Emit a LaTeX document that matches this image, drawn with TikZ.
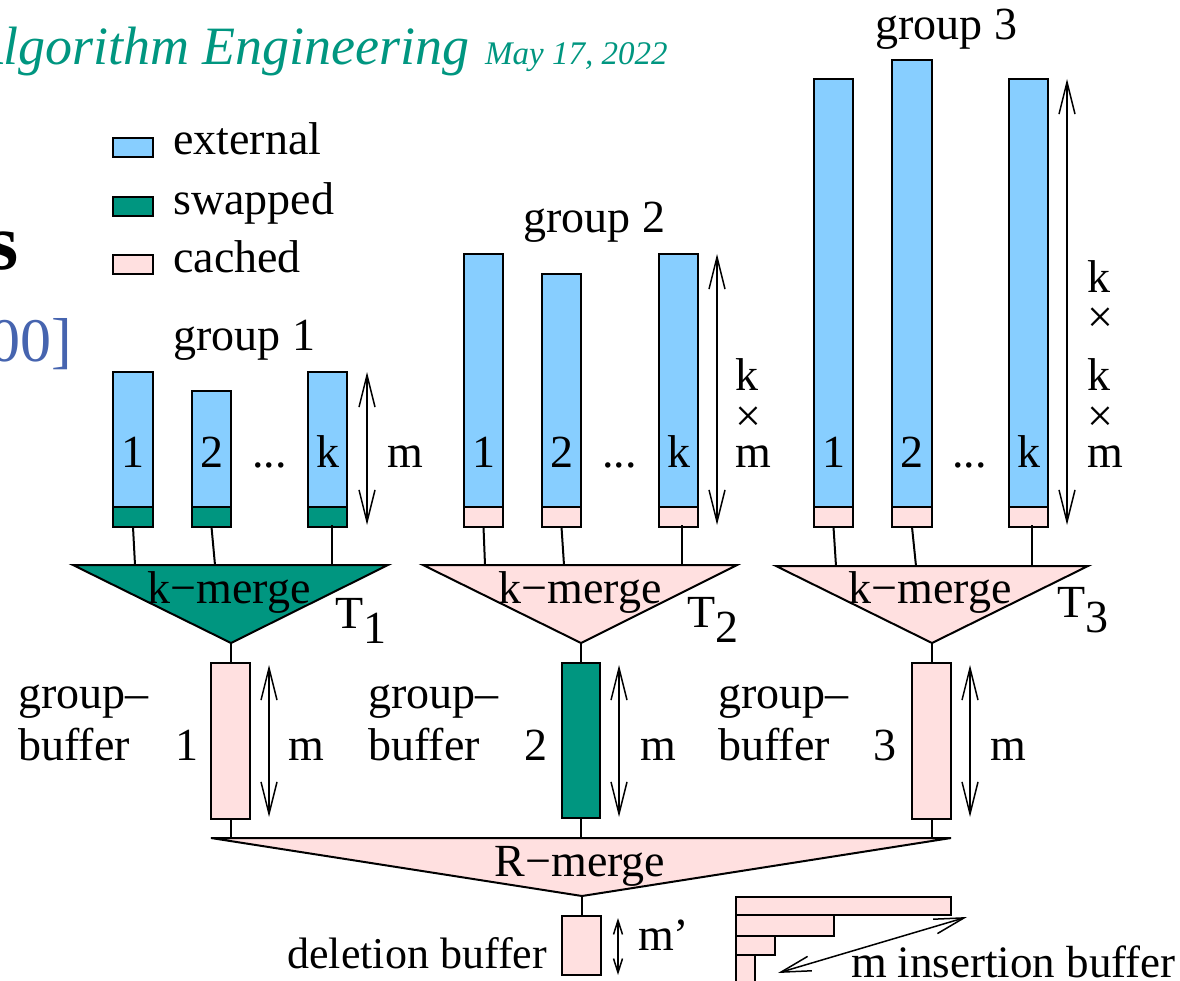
\documentclass[tikz,border=0pt]{standalone}
\usepackage{fontspec}
\setmainfont{Liberation Serif}
\usetikzlibrary{arrows.meta}
\definecolor{extblue}{RGB}{135,206,255}
\definecolor{swapteal}{RGB}{0,150,128}
\definecolor{cachepink}{RGB}{255,224,224}
\definecolor{citeblue}{RGB}{70,100,175}
\newcommand\blk[6]{\node[blkbase,fill=#2,minimum width={(#5)-(#3)},minimum height={(#6)-(#4)}] (#1) at ({((#3)+(#5))/2},{((#4)+(#6))/2}) {};}
\begin{document}
\begin{tikzpicture}[x=1pt,y=-1pt,
  blkbase/.style={draw,line width=2pt,inner sep=0pt,outer sep=0pt},
  txt/.style={inner sep=0pt,anchor=base west,font=\fontsize{46}{54}\selectfont},
  ctxt/.style={txt,anchor=base},
  etxt/.style={txt,anchor=base east},
  wire/.style={line width=2pt},
  tri/.style={draw,line width=2pt,line join=miter},
  dimarrow/.style={line width=1.5pt,{Straight Barb[length=32pt,width=16pt]}-{Straight Barb[length=32pt,width=16pt]}},
  sdimarrow/.style={line width=1.5pt,{Straight Barb[length=14pt,width=9pt]}-{Straight Barb[length=14pt,width=9pt]}}
]
\useasboundingbox (0,0) rectangle (1180,981);

% slide fragments
\node[inner sep=0pt,anchor=base east,font=\fontsize{54}{60}\selectfont\itshape,text=swapteal] (title) at (470,65) {Algorithm Engineering};
\node[inner sep=0pt,anchor=base west,font=\fontsize{33}{40}\selectfont\itshape,text=swapteal] (date) at (485,65) {May 17, 2022};
\node[inner sep=0pt,anchor=base east,font=\fontsize{80}{90}\selectfont\bfseries] (head) at (19,270) {s};
\node[inner sep=0pt,anchor=base east,font=\fontsize{62}{70}\selectfont,text=citeblue] (cite) at (72,362) {00]};

% legend
\blk{lgext}{extblue}{113}{138}{153}{157}
\blk{lgswp}{swapteal}{113}{197}{153}{216}
\blk{lgcch}{cachepink}{113}{255}{153}{274}
\node[txt] (lext) at (173,155) {external};
\node[txt] (lswp) at (173,215) {swapped};
\node[txt] (lcch) at (173,273) {cached};

% group labels
\node[txt] (g1) at (173,350) {group 1};
\node[txt] (g2) at (523,233) {group 2};
\node[txt] (g3) at (875,40) {group 3};

% group 1 bars
\blk{b11}{extblue}{113}{372}{153}{507}
\blk{s11}{swapteal}{113}{507}{153}{527}
\blk{b12}{extblue}{192}{391}{231}{507}
\blk{s12}{swapteal}{192}{507}{231}{527}
\blk{b1k}{extblue}{308}{372}{347}{507}
\blk{s1k}{swapteal}{308}{507}{347}{527}
% group 2 bars
\blk{b21}{extblue}{464}{254}{503}{507}
\blk{s21}{cachepink}{464}{507}{503}{527}
\blk{b22}{extblue}{542}{274}{581}{507}
\blk{s22}{cachepink}{542}{507}{581}{527}
\blk{b2k}{extblue}{659}{254}{698}{507}
\blk{s2k}{cachepink}{659}{507}{698}{527}
% group 3 bars
\blk{b31}{extblue}{814}{79}{853}{507}
\blk{s31}{cachepink}{814}{507}{853}{527}
\blk{b32}{extblue}{892}{60}{932}{507}
\blk{s32}{cachepink}{892}{507}{932}{527}
\blk{b3k}{extblue}{1009}{79}{1048}{507}
\blk{s3k}{cachepink}{1009}{507}{1048}{527}

% bar labels
\foreach \nm/\x in {1/133,2/211.5,k/327.5,1/483.5,2/561.5,k/678.5,1/833.5,2/912,k/1028.5}
  \node[ctxt] at (\x,467) {\nm};
\node[txt] (dots1) at (252,467) {...};
\node[txt] (dots2) at (602,467) {...};
\node[txt] (dots3) at (952,467) {...};

% triangles
\coordinate (T1l) at (73,565); \coordinate (T1r) at (388,565); \coordinate (T1b) at (231,643);
\coordinate (T2l) at (423,565); \coordinate (T2r) at (737,565); \coordinate (T2b) at (581,643);
\coordinate (T3l) at (776,566); \coordinate (T3r) at (1088,566); \coordinate (T3b) at (932,643);
\draw[tri,fill=swapteal] (T1l) -- (T1r) -- (T1b) -- cycle;
\draw[tri,fill=cachepink] (T2l) -- (T2r) -- (T2b) -- cycle;
\draw[tri,fill=cachepink] (T3l) -- (T3r) -- (T3b) -- cycle;
\node[ctxt] (km1) at (229,603) {k−merge};
\node[ctxt] (km2) at (580,603) {k−merge};
\node[ctxt] (km3) at (930,603) {k−merge};
\node[txt] (t1) at (335,628) {T\raisebox{-15pt}{1}};
\node[txt] (t2) at (687,627) {T\raisebox{-15pt}{2}};
\node[txt] (t3) at (1057,617) {T\raisebox{-15pt}{3}};

% connectors bars -> triangles
\coordinate (c11) at (135,565); \coordinate (c12) at (215,565); \coordinate (c1k) at (332,565);
\coordinate (c21) at (485,565); \coordinate (c22) at (564,565); \coordinate (c2k) at (682,565);
\coordinate (c31) at (836,566); \coordinate (c32) at (916,566); \coordinate (c3k) at (1032,566);
\draw[wire] (s11.south) -- (c11);
\draw[wire] (s12.south) -- (c12);
\draw[wire] (c1k |- s1k.south) ++(0,-2) -- (c1k);
\draw[wire] (s21.south) -- (c21);
\draw[wire] (s22.south) -- (c22);
\draw[wire] (c2k |- s2k.south) ++(0,-2) -- (c2k);
\draw[wire] (s31.south) -- (c31);
\draw[wire] (s32.south) -- (c32);
\draw[wire] (c3k |- s3k.south) ++(0,-2) -- (c3k);

% size arrows for groups
\coordinate (a1t) at (367,372); \coordinate (a1b) at (367,525);
\coordinate (a2t) at (717,254); \coordinate (a2b) at (717,525);
\coordinate (a3t) at (1067,79); \coordinate (a3b) at (1067,525);
\draw[dimarrow] (a1t) -- (a1b);
\draw[dimarrow] (a2t) -- (a2b);
\draw[dimarrow] (a3t) -- (a3b);
\node[txt] (m1) at (387,467) {m};
\node[txt] (k2) at (735,390) {k};
\node[txt] (x2) at (735,431) {×};
\node[txt] (m2) at (735,467) {m};
\node[txt] (k3a) at (1087,293) {k};
\node[txt] (x3a) at (1087,333) {×};
\node[txt] (k3b) at (1087,390) {k};
\node[txt] (x3b) at (1087,431) {×};
\node[txt] (m3) at (1087,467) {m};

% group buffers
\blk{gb1}{cachepink}{211}{663}{250}{819}
\blk{gb2}{swapteal}{562}{663}{600}{818}
\blk{gb3}{cachepink}{912}{663}{951}{819}
\draw[wire] (T1b) -- (T1b |- gb1.north);
\draw[wire] (T2b) -- (T2b |- gb2.north);
\draw[wire] (T3b) -- (T3b |- gb3.north);
\coordinate (g1a) at (269,665); \coordinate (g1b) at (269,817);
\coordinate (g2a) at (619,665); \coordinate (g2b) at (619,817);
\coordinate (g3a) at (970,665); \coordinate (g3b) at (970,817);
\draw[dimarrow] (g1a) -- (g1b);
\draw[dimarrow] (g2a) -- (g2b);
\draw[dimarrow] (g3a) -- (g3b);
\node[txt] (gm1) at (288,760) {m};
\node[txt] (gm2) at (640,760) {m};
\node[txt] (gm3) at (990,760) {m};
\node[txt] (gl1a) at (18,708) {group–};
\node[txt] (gl1b) at (18,760) {buffer};
\node[txt] (gn1) at (175,760) {1};
\node[txt] (gl2a) at (368,708) {group–};
\node[txt] (gl2b) at (368,760) {buffer};
\node[txt] (gn2) at (524,760) {2};
\node[txt] (gl3a) at (718,708) {group–};
\node[txt] (gl3b) at (718,760) {buffer};
\node[txt] (gn3) at (873,760) {3};

% R-merge
\coordinate (Rl) at (211,838); \coordinate (Rr) at (951,838); \coordinate (Rb) at (582,896);
\draw[tri,fill=cachepink] (Rl) -- (Rr) -- (Rb) -- cycle;
\draw[wire] (gb1.south) -- (gb1.south |- Rl);
\draw[wire] (gb2.south) -- (gb2.south |- Rl);
\draw[wire] (gb3.south) -- (gb3.south |- Rl);
\node[ctxt] (rm) at (580,876) {R−merge};

% deletion buffer
\blk{db}{cachepink}{562}{916}{601}{975}
\draw[wire] (Rb) -- (Rb |- db.north);
\coordinate (da) at (618,918); \coordinate (dbb) at (618,975);
\draw[sdimarrow] (da) -- (dbb);
\node[txt] (mp) at (638,950) {m’};
\node[etxt,font=\fontsize{44}{52}\selectfont] (dl) at (547,968) {deletion buffer};

% insertion buffer
\blk{ib1}{cachepink}{736}{897}{951}{915}
\blk{ib2}{cachepink}{736}{915}{834}{936}
\blk{ib3}{cachepink}{736}{936}{775}{955}
\blk{ib4}{cachepink}{736}{955}{755}{985}
\coordinate (ia) at (778,973); \coordinate (ib) at (967,917);
\draw[line width=1.5pt,{Straight Barb[length=30pt,width=15pt]}-{Straight Barb[length=30pt,width=15pt]}] (ia) -- (ib);
\node[txt] (im) at (851,977) {m};
\node[etxt,font=\fontsize{45}{52}\selectfont] (il) at (1176,977) {insertion buffer};
\end{tikzpicture}
\end{document}
